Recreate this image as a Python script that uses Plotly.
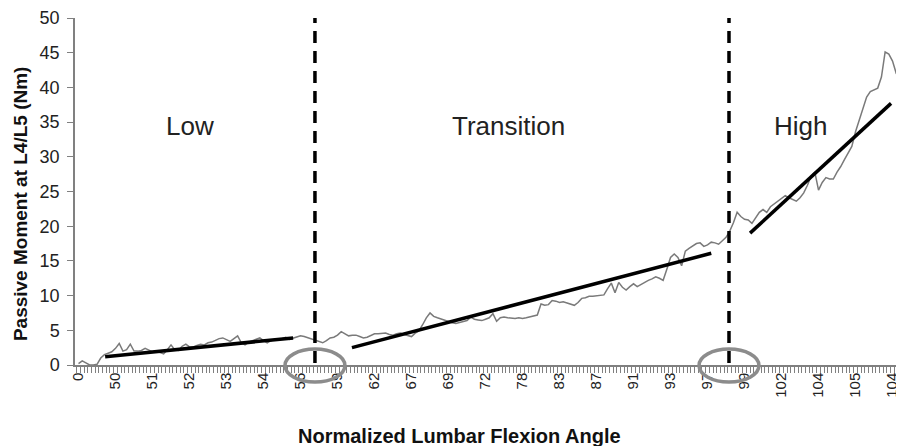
import plotly.graph_objects as go

# ---- data ----
angle_labels = ["0", "50", "51", "52", "53", "54", "56", "59", "62", "67", "69", "72",
                "78", "83", "87", "91", "93", "97", "99", "102", "104", "105", "104"]

moment = [
    0.2, 0.6, 0.3, 0.0, 0.0, 0.1, 1.0, 1.5, 1.7, 1.9,
    2.4, 3.1, 2.0, 2.2, 3.0, 2.0, 2.0, 2.1, 2.4, 2.2,
    1.9, 2.0, 1.8, 1.6, 2.2, 2.9, 2.2, 2.1, 2.7, 3.0,
    2.6, 2.6, 2.8, 3.0, 2.9, 3.2, 3.3, 3.6, 3.8, 3.9,
    3.7, 3.4, 3.8, 4.2, 3.2, 2.9, 3.3, 3.5, 3.7, 3.9,
    3.5, 3.2, 3.5, 3.7, 3.6, 3.8, 4.0, 3.7, 3.9, 4.0,
    4.2, 4.1, 3.9, 3.8, 3.6, 3.4, 3.2, 3.5, 3.9, 4.0,
    4.3, 4.8, 4.5, 4.2, 4.3, 4.3, 4.1, 3.9, 4.0, 4.2,
    4.5, 4.5, 4.6, 4.6, 4.4, 4.3, 4.5, 4.6, 4.4, 4.3,
    4.1, 4.6, 4.9, 5.8, 6.8, 7.5, 7.0, 6.8, 6.6, 6.4,
    6.3, 6.1, 6.0, 6.1, 6.2, 6.4, 6.9, 6.6, 6.5, 6.4,
    6.6, 6.8, 7.4, 6.3, 6.8, 6.9, 6.8, 6.7, 6.7, 6.8,
    6.7, 6.8, 6.9, 7.0, 7.2, 8.8, 8.6, 8.7, 9.3, 9.2,
    9.0, 9.1, 8.9, 8.7, 8.6, 9.0, 9.6, 9.7, 9.9, 9.9,
    10.0, 10.0, 10.1, 11.0, 11.8, 10.4, 11.9, 11.2, 10.8, 11.3,
    11.7, 11.3, 11.6, 12.0, 12.2, 12.4, 12.7, 12.5, 12.2, 13.8,
    15.5, 16.0, 15.5, 14.3, 16.4, 16.8, 17.2, 17.5, 17.6, 17.1,
    17.3, 17.7, 17.6, 17.4, 17.9, 18.4, 19.3, 20.5, 22.0, 21.4,
    21.0, 20.9, 20.4, 21.3, 22.0, 22.4, 22.0, 22.8, 23.2, 23.6,
    24.0, 24.4, 24.1, 23.8, 23.6, 24.1, 24.8, 25.9, 27.2, 27.8,
    25.2, 26.3, 27.0, 26.8, 26.8, 27.8, 28.6, 29.6, 30.6, 31.5,
    33.6, 35.2, 36.8, 38.6, 39.4, 39.7, 39.9, 41.5, 45.1, 44.8,
    43.8, 42.0, 41.8, 43.7,
]

# fitted trend lines (start/end in category index and moment)
low_x = [7.2, 58.0]
low_y = [1.2, 3.9]
trans_x = [73.9, 171.0]
trans_y = [2.5, 16.1]
high_x = [181.5, 219.6]
high_y = [19.0, 37.7]

# phase boundaries (category index)
boundary_idx = [63.9, 175.8]

regions = ["Low", "Transition", "High"]
region_x = [30.1, 116.1, 195.0]
region_y = 34.4

idx = list(range(len(moment)))
label_idx = list(range(0, 10 * len(angle_labels), 10))

FONT = "Arial, Liberation Sans, sans-serif"

fig = go.Figure()

fig.add_trace(go.Scatter(x=idx, y=moment, mode="lines",
                         line=dict(color="#7a7a7a", width=1.5), showlegend=False))

for xs, ys in [(low_x, low_y), (trans_x, trans_y), (high_x, high_y)]:
    fig.add_trace(go.Scatter(x=xs, y=ys, mode="lines",
                             line=dict(color="black", width=3.5), showlegend=False))

for b in boundary_idx:
    fig.add_trace(go.Scatter(x=[b, b], y=[0.3, 50], mode="lines",
                             line=dict(color="black", width=3.5, dash="12px,8px"),
                             showlegend=False))
    fig.add_shape(type="circle", xref="x", yref="paper",
                  x0=b - 8.1, x1=b + 8.1, y0=-0.049, y1=0.046,
                  line=dict(color="#8c8c8c", width=3.5))

for name, rx in zip(regions, region_x):
    fig.add_annotation(x=rx, y=region_y, text=name, showarrow=False,
                       xanchor="center", yanchor="middle",
                       font=dict(family=FONT, size=26, color="#222"))

fig.add_annotation(xref="paper", yref="paper", x=0.464, y=-0.206,
                   xanchor="center", yanchor="middle",
                   text="<b>Normalized Lumbar Flexion Angle</b>", showarrow=False,
                   font=dict(family=FONT, size=20, color="#111"))
fig.add_annotation(xref="paper", yref="paper", x=-0.065, y=0.464, textangle=-90,
                   xanchor="center", yanchor="middle",
                   text="<b>Passive Moment at L4/L5 (Nm)</b>", showarrow=False,
                   font=dict(family=FONT, size=19, color="#111"))

fig.update_xaxes(range=[-0.95, 223.1], tickmode="array", tickvals=label_idx, ticktext=angle_labels,
                 tickangle=-90, ticks="", showgrid=False, zeroline=False,
                 showline=True, linecolor="#808080", linewidth=1.5,
                 ticklabeloverflow="allow",
                 tickfont=dict(family=FONT, size=15, color="#222"),
                 minor=dict(tickmode="linear", tick0=-0.5, dtick=1, ticks="outside",
                            ticklen=6, tickcolor="#808080", tickwidth=1, showgrid=False))
fig.update_yaxes(range=[0, 50], dtick=5, ticks="outside", ticklen=6, tickcolor="#808080",
                 showgrid=False, zeroline=False, showline=True, linecolor="#808080", linewidth=1.5,
                 ticklabeloverflow="allow", ticklabelstandoff=4,
                 tickfont=dict(family=FONT, size=18, color="#222"))

# page body has an 8px default margin, so the figure is sized to fit the window
fig.update_layout(width=896, height=438, margin=dict(l=67, r=0, t=8, b=81),
                  plot_bgcolor="white", paper_bgcolor="white", showlegend=False)

fig.write_html("out.html")
